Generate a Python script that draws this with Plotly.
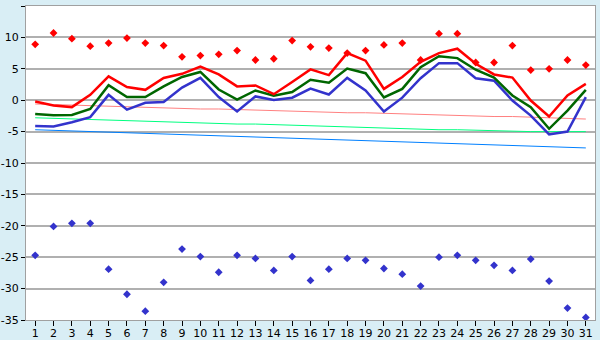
import plotly.graph_objects as go

days = list(range(1, 32))

rec_max = [8.9, 10.7, 9.8, 8.6, 9.1, 9.9, 9.1, 8.7, 6.9, 7.1, 7.3, 7.9, 6.4, 6.6, 9.5, 8.5,
           8.3, 7.5, 7.9, 8.8, 9.1, 6.4, 10.6, 10.6, 6.0, 6.0, 8.7, 4.8, 5.0, 6.4, 5.6]
rec_min = [-24.7, -20.1, -19.6, -19.6, -26.9, -30.9, -33.6, -29.0, -23.7, -24.9, -27.4, -24.7,
           -25.2, -27.1, -24.9, -28.7, -26.9, -25.2, -25.5, -26.8, -27.7, -29.6, -25.0, -24.7,
           -25.5, -26.3, -27.1, -25.3, -28.8, -33.1, -34.6]
tmax = [-0.2, -0.85, -1.1, 0.85, 3.8, 2.1, 1.65, 3.55, 4.2, 5.35, 4.1, 2.2, 2.35, 0.96, 2.9, 4.9,
        4.0, 7.5, 6.3, 1.8, 3.7, 6.1, 7.5, 8.2, 5.8, 4.1, 3.6, -0.05, -2.6, 0.75, 2.6]
tmean = [-2.2, -2.4, -2.35, -1.4, 2.4, 0.5, 0.5, 2.2, 3.7, 4.5, 1.7, 0.1, 1.55, 0.7, 1.3, 3.25,
         2.8, 5.05, 4.3, 0.43, 1.8, 5.25, 7.0, 6.7, 4.85, 3.6, 0.75, -1.1, -4.55, -1.65, 1.65]
tmin = [-4.1, -4.2, -3.5, -2.7, 0.85, -1.5, -0.4, -0.3, 2.0, 3.55, 0.5, -1.8, 0.6, 0.05, 0.4, 1.85,
        0.9, 3.55, 1.55, -1.8, 0.4, 3.5, 5.9, 5.9, 3.5, 3.1, -0.05, -2.45, -5.45, -5.0, 0.5]
norm_max = [-0.6, -0.7, -0.8, -0.8, -0.9, -1.0, -1.1, -1.2, -1.3, -1.4, -1.4, -1.5, -1.6, -1.7, -1.7,
            -1.8, -1.9, -2.0, -2.0, -2.1, -2.2, -2.3, -2.3, -2.4, -2.5, -2.6, -2.6, -2.7, -2.8, -2.9, -3.0]
norm_mean = [-2.8, -2.9, -3.0, -3.1, -3.1, -3.2, -3.3, -3.4, -3.5, -3.6, -3.7, -3.8, -3.8, -3.9, -4.0,
             -4.1, -4.2, -4.3, -4.4, -4.4, -4.5, -4.6, -4.7, -4.7, -4.8, -4.9, -4.9, -5.0, -5.0, -5.0, -5.0]
norm_min = [-4.7, -4.8, -4.9, -5.0, -5.1, -5.2, -5.3, -5.4, -5.5, -5.6, -5.7, -5.8, -5.9, -6.0, -6.1,
            -6.2, -6.3, -6.4, -6.5, -6.6, -6.7, -6.8, -6.9, -7.0, -7.1, -7.2, -7.3, -7.4, -7.5, -7.55, -7.6]

y_ticks = [-35, -30, -25, -20, -15, -10, -5, 0, 5, 10, 15]
y_text = [str(v) for v in y_ticks]

fig = go.Figure()
fig.add_trace(go.Scatter(x=days, y=norm_max, mode="lines", line=dict(color="#ff8080", width=1)))
fig.add_trace(go.Scatter(x=days, y=norm_mean, mode="lines", line=dict(color="#00ff80", width=1)))
fig.add_trace(go.Scatter(x=days, y=norm_min, mode="lines", line=dict(color="#0080ff", width=1)))
fig.add_trace(go.Scatter(x=days, y=tmin, mode="lines", line=dict(color="#3333cc", width=2.5)))
fig.add_trace(go.Scatter(x=days, y=tmean, mode="lines", line=dict(color="#006600", width=2.5)))
fig.add_trace(go.Scatter(x=days, y=tmax, mode="lines", line=dict(color="#ff0000", width=2.5)))
fig.add_trace(go.Scatter(x=days, y=rec_max, mode="markers",
                         marker=dict(symbol="diamond", size=6, color="#ff0000")))
fig.add_trace(go.Scatter(x=days, y=rec_min, mode="markers",
                         marker=dict(symbol="diamond", size=6, color="#3333cc")))

fig.update_layout(
    width=600, height=340,
    margin=dict(l=26, r=5, t=6, b=20, autoexpand=False),
    paper_bgcolor="#d9eef5",
    plot_bgcolor="#ffffff",
    showlegend=False,
    font=dict(family="DejaVu Sans", size=11, color="#000000"),
)
fig.update_xaxes(
    range=[0.5, 31.5], tickmode="array", tickvals=days, ticktext=[str(d) for d in days],
    ticks="outside", ticklen=5, tickcolor="#000000", showgrid=False, zeroline=False,
    showline=True, linecolor="#a0a0a0", linewidth=1, mirror=True, automargin=False,
    tickfont=dict(size=11), ticklabelstandoff=-2,
)
fig.update_yaxes(
    range=[-35, 15], tickmode="array", tickvals=y_ticks, ticktext=y_text,
    ticks="outside", ticklen=4, tickcolor="#000000", showgrid=True, gridcolor="#b0b0b0",
    gridwidth=1.5, zeroline=False, showline=True, linecolor="#a0a0a0", linewidth=1, mirror=True,
    automargin=False,
)

fig.write_html(
    "out.html",
    config={"displayModeBar": False},
    post_script="document.body.style.margin='0';document.body.style.background='#d9eef5';",
)
